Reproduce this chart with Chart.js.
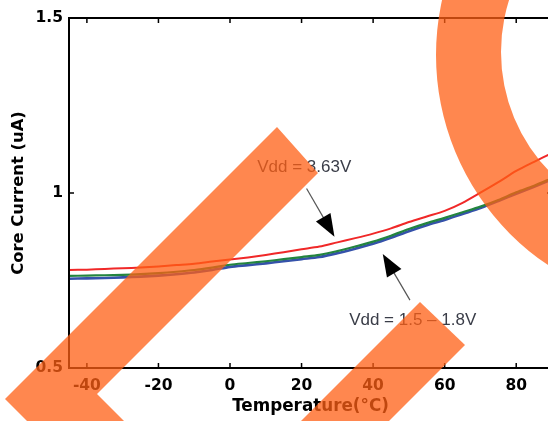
<!DOCTYPE html>
<html><head><meta charset="utf-8">
<style>
html,body{margin:0;padding:0;overflow:hidden;background:#fff;width:548px;height:421px}
#wrap{width:556px;height:421px}
</style>
<script src="https://cdn.jsdelivr.net/npm/chart.js@4.4.1/dist/chart.umd.min.js"></script>
</head><body><div id="wrap"><canvas id="c" width="556" height="421"></canvas></div>
<script>
const temperatures = [-45,-40,-35,-30,-25,-20,-15,-10,-5,0,5,10,15,20,25,30,35,40,45,50,55,60,65,70,75,80,85,90];
const current363 = [0.780,0.781,0.783,0.785,0.787,0.790,0.794,0.798,0.804,0.810,0.816,0.823,0.831,0.839,0.847,0.859,0.871,0.884,0.899,0.917,0.933,0.949,0.972,1.001,1.031,1.063,1.089,1.114];
const current18 = [0.763,0.764,0.765,0.766,0.768,0.771,0.775,0.780,0.787,0.795,0.800,0.805,0.811,0.817,0.823,0.834,0.847,0.861,0.878,0.897,0.914,0.929,0.945,0.961,0.980,1.002,1.021,1.042];
const current15 = [0.755,0.756,0.757,0.759,0.761,0.764,0.768,0.773,0.780,0.789,0.794,0.799,0.805,0.811,0.817,0.828,0.841,0.855,0.872,0.891,0.908,0.923,0.940,0.957,0.977,0.998,1.018,1.039];
const xTicks = [-40,-20,0,20,40,60,80];
const yTicks = [0.5,1,1.5];
const yTickLabels = ['0.5','1','1.5'];
const labelTexts = ['Vdd = 3.63V','Vdd = 1.5 \u2013 1.8V'];
const labelAt = [[7.6,1.074],[33.3,0.637]];
const arrowFrom = [[21.4,1.013],[50.3,0.694]];
const arrowTo = [[29.2,0.875],[42.7,0.826]];

const pts = arr => temperatures.map((t,i)=>({x:t,y:arr[i]}));
const tickFont = {family:'DejaVu Sans', weight:'bold', size:15.5};

const framePlugin = {
  id:'frame',
  afterDatasetsDraw(chart){
    const {ctx, chartArea:a, scales:{x,y}} = chart;
    ctx.save();
    ctx.strokeStyle='#000'; ctx.lineWidth=2;
    ctx.beginPath();
    ctx.rect(a.left,a.top,a.right-a.left,a.bottom-a.top);
    ctx.stroke();
    ctx.lineWidth=1.5;
    ctx.beginPath();
    xTicks.forEach(v=>{const px=x.getPixelForValue(v);
      ctx.moveTo(px,a.bottom); ctx.lineTo(px,a.bottom-5);
      ctx.moveTo(px,a.top); ctx.lineTo(px,a.top+5);});
    yTicks.forEach(v=>{const py=y.getPixelForValue(v);
      ctx.moveTo(a.left,py); ctx.lineTo(a.left+5,py);
      ctx.moveTo(a.right,py); ctx.lineTo(a.right-5,py);});
    ctx.stroke();
    ctx.fillStyle='#3a3d48';
    ctx.font='17px "Liberation Sans", Arial, sans-serif';
    ctx.textBaseline='middle'; ctx.textAlign='left';
    labelTexts.forEach((t,i)=>ctx.fillText(t, x.getPixelForValue(labelAt[i][0]), y.getPixelForValue(labelAt[i][1])));
    arrowFrom.forEach((f,i)=>{
      const x1=x.getPixelForValue(f[0]), y1=y.getPixelForValue(f[1]);
      const x2=x.getPixelForValue(arrowTo[i][0]), y2=y.getPixelForValue(arrowTo[i][1]);
      const ang=Math.atan2(y2-y1,x2-x1), L=22.5, W=8.4, c=Math.cos(ang), s=Math.sin(ang);
      ctx.strokeStyle='#555'; ctx.lineWidth=1.2;
      ctx.beginPath(); ctx.moveTo(x1,y1); ctx.lineTo(x2-L*c*0.8,y2-L*s*0.8); ctx.stroke();
      ctx.fillStyle='#000';
      ctx.beginPath(); ctx.moveTo(x2,y2);
      ctx.lineTo(x2-L*c+W*s, y2-L*s-W*c);
      ctx.lineTo(x2-L*c-W*s, y2-L*s+W*c);
      ctx.closePath(); ctx.fill();
    });
    ctx.restore();
  }
};

const overlayPlugin = {
  id:'overlay',
  afterDraw(chart){
    const ctx=chart.ctx;
    ctx.save();
    ctx.fillStyle='rgba(255,95,20,0.75)';
    ctx.beginPath();
    ctx.moveTo(277,127); ctx.lineTo(318,173); ctx.lineTo(97,394); ctx.lineTo(140,437);
    ctx.lineTo(45,439); ctx.lineTo(5,399); ctx.closePath(); ctx.fill();
    ctx.beginPath();
    ctx.moveTo(420,302); ctx.lineTo(465,345); ctx.lineTo(385,425); ctx.lineTo(295,427); ctx.closePath(); ctx.fill();
    ctx.beginPath();
    ctx.arc(689,55,253,0,Math.PI*2,false);
    ctx.moveTo(673+172,52);
    ctx.arc(673,52,172,0,Math.PI*2,true);
    ctx.fill();
    ctx.restore();
  }
};

new Chart(document.getElementById('c'), {
  type:'line',
  data:{datasets:[
    {label:'Vdd = 3.63V', data:pts(current363), borderColor:'#f02828', borderWidth:2, pointRadius:0, tension:0.3},
    {label:'Vdd = 1.8V', data:pts(current18), borderColor:'#23843f', borderWidth:2.2, pointRadius:0, tension:0.3},
    {label:'Vdd = 1.5V', data:pts(current15), borderColor:'#3552aa', borderWidth:2.6, pointRadius:0, tension:0.3}
  ]},
  options:{
    responsive:false, animation:false,
    layout:{padding:{top:18,right:4,bottom:0,left:0}},
    plugins:{legend:{display:false}, tooltip:{enabled:false}},
    scales:{
      x:{type:'linear', min:-45, max:90,
        afterBuildTicks:s=>{s.ticks=xTicks.map(v=>({value:v}));},
        afterFit:s=>{s.height=53;},
        grid:{display:false, drawTicks:false}, border:{display:false},
        ticks:{font:tickFont, color:'#000', padding:9, maxRotation:0, autoSkip:false, callback:v=>String(v)},
        title:{display:true, text:'Temperature(\u00b0C)', color:'#000', font:{family:'DejaVu Sans', weight:'bold', size:16.8}, padding:{top:0,bottom:4}}
      },
      y:{type:'linear', min:0.5, max:1.5,
        afterBuildTicks:s=>{s.ticks=yTicks.map(v=>({value:v}));},
        afterFit:s=>{s.width=69;},
        grid:{display:false, drawTicks:false}, border:{display:false},
        ticks:{font:tickFont, color:'#000', padding:6, autoSkip:false, callback:v=>yTickLabels[yTicks.indexOf(v)]},
        title:{display:true, text:'Core Current (uA)', color:'#000', font:{family:'DejaVu Sans', weight:'bold', size:16.4}, padding:{top:9.4,bottom:0}}
      }
    }
  },
  plugins:[framePlugin, overlayPlugin]
});
</script></body></html>
